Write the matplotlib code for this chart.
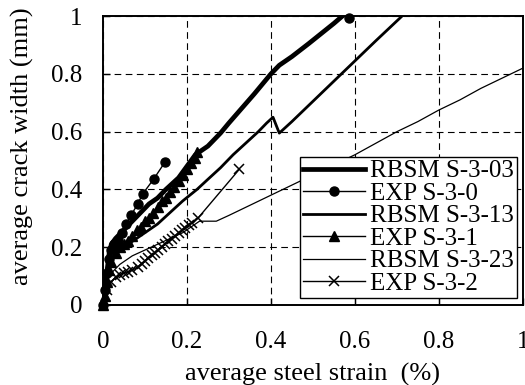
import numpy as np
import matplotlib
matplotlib.use("Agg")
import matplotlib.pyplot as plt

plt.rcParams.update({
    'font.family': ['Liberation Serif', 'DejaVu Serif'],
    'font.size': 18,
})

# --- data (x: average steel strain %, y: crack width mm) ---
rbsm03_x = [0, 0.005, 0.01, 0.015, 0.02, 0.03, 0.05, 0.07, 0.09, 0.11, 0.13, 0.15,
            0.18, 0.2, 0.22, 0.25, 0.28, 0.3, 0.33, 0.36, 0.4, 0.42, 0.45, 0.49,
            0.52, 0.55, 0.57, 0.6]
rbsm03_y = [0, 0.05, 0.12, 0.18, 0.21, 0.23, 0.26, 0.29, 0.32, 0.35, 0.37, 0.40,
            0.44, 0.48, 0.52, 0.55, 0.595, 0.63, 0.68, 0.73, 0.80, 0.83, 0.86, 0.905,
            0.94, 0.975, 1.0, 1.03]

exp0_x = [0, 0.005, 0.01, 0.015, 0.02, 0.027, 0.036, 0.045, 0.055, 0.067, 0.083,
          0.095, 0.121, 0.148, np.nan, 0.585]
exp0_y = [0, 0.05, 0.11, 0.16, 0.19, 0.21, 0.225, 0.25, 0.28, 0.31, 0.35,
          0.385, 0.436, 0.495, np.nan, 0.995]

rbsm13_x = [0, 0.005, 0.01, 0.02, 0.04, 0.07, 0.1, 0.13, 0.16, 0.19, 0.224, 0.25,
            0.28, 0.31, 0.34, 0.37, 0.39, 0.405, 0.42, 0.45, 0.5, 0.55, 0.6, 0.65,
            0.712, 0.75]
rbsm13_y = [0, 0.06, 0.12, 0.16, 0.19, 0.22, 0.25, 0.28, 0.32, 0.36, 0.40, 0.435,
            0.475, 0.52, 0.56, 0.60, 0.63, 0.65, 0.595, 0.635, 0.705, 0.775, 0.845, 0.915,
            1.0, 1.05]

exp1_x = [0, 0.005, 0.01, 0.015, 0.02, 0.03, 0.04, 0.05, 0.06, 0.07, 0.08, 0.09,
          0.1, 0.11, 0.12, 0.13, 0.14, 0.15, 0.16, 0.17, 0.18, 0.19, 0.2, 0.21,
          0.22, 0.225]
exp1_y = [0, 0.03, 0.08, 0.12, 0.15, 0.18, 0.20, 0.21, 0.22, 0.24, 0.26, 0.27,
          0.29, 0.30, 0.32, 0.34, 0.36, 0.37, 0.39, 0.41, 0.43, 0.45, 0.47, 0.49,
          0.51, 0.53]

rbsm23_x = [0, 0.005, 0.01, 0.02, 0.04, 0.07, 0.1, 0.13, 0.16, 0.19, 0.21, 0.23,
            0.27, 0.3, 0.35, 0.4, 0.45, 0.5, 0.55, 0.6, 0.65, 0.7, 0.75, 0.8,
            0.85, 0.9, 0.95, 1.0]
rbsm23_y = [0, 0.05, 0.08, 0.11, 0.14, 0.17, 0.19, 0.21, 0.23, 0.25, 0.27, 0.29,
            0.29, 0.31, 0.345, 0.38, 0.415, 0.45, 0.485, 0.52, 0.56, 0.60, 0.635, 0.675,
            0.71, 0.75, 0.785, 0.82]

exp2_x = [0, 0.005, 0.01, 0.02, 0.03, 0.04, 0.05, 0.06, 0.07, 0.084, 0.092, 0.1,
          0.108, 0.116, 0.124, 0.132, 0.14, 0.148, 0.156, 0.164, 0.172, 0.18,
          0.188, 0.196, 0.204, 0.212, 0.226, 0.325]
exp2_y = [0, 0.03, 0.05, 0.08, 0.095, 0.105, 0.11, 0.115, 0.12, 0.133, 0.143, 0.152,
          0.162, 0.172, 0.181, 0.191, 0.2, 0.21, 0.22, 0.229, 0.239, 0.248,
          0.258, 0.268, 0.277, 0.285, 0.30, 0.47]

tick_vals = [0, 0.2, 0.4, 0.6, 0.8, 1]
tick_labels = ['0', '0.2', '0.4', '0.6', '0.8', '1']

fig = plt.figure(figsize=(5.25, 3.85), dpi=100)
ax = fig.add_axes([0.196, 0.208, 0.8, 0.75])

ax.plot(rbsm03_x, rbsm03_y, color='black', lw=3.4, label='RBSM S-3-03')
ax.plot(exp0_x, exp0_y, color='black', lw=1.0, marker='o', ms=6.5,
        label='EXP S-3-0', clip_on=False)
ax.plot(rbsm13_x, rbsm13_y, color='black', lw=2.0, label='RBSM S-3-13')
ax.plot(exp1_x, exp1_y, color='black', lw=1.0, marker='^', ms=6.5,
        label='EXP S-3-1', clip_on=False)
ax.plot(rbsm23_x, rbsm23_y, color='black', lw=0.9, label='RBSM S-3-23')
ax.plot(exp2_x, exp2_y, color='black', lw=1.0, marker='x', ms=7, mew=1.1,
        label='EXP S-3-2')

ax.set_xlim(0, 1)
ax.set_ylim(0, 1)
ax.set_xticks(tick_vals)
ax.set_xticklabels(tick_labels)
ax.set_yticks(tick_vals)
ax.set_yticklabels(tick_labels)
ax.tick_params(direction='in', length=5, width=1, colors='black')
ax.tick_params(axis='x', pad=19)
ax.tick_params(axis='y', pad=15)
ax.grid(True, color='black', linestyle=(0, (6, 4)), linewidth=0.8)
for s in ax.spines.values():
    s.set_linewidth(1.4)

ax.set_xlabel('average steel strain  (%)', fontsize=19, labelpad=7)
ax.set_ylabel('average crack width (mm)', fontsize=19)
ax.yaxis.set_label_coords(-0.165, 0.55)

leg = ax.legend(loc='lower right', bbox_to_anchor=(0.986, 0.024), borderaxespad=0,
                fancybox=False, edgecolor='black', framealpha=1, handlelength=2.5,
                handletextpad=0.2, labelspacing=0.0, borderpad=0.12)
leg.get_frame().set_linewidth(1.0)

fig.savefig('out.png', dpi=100)
